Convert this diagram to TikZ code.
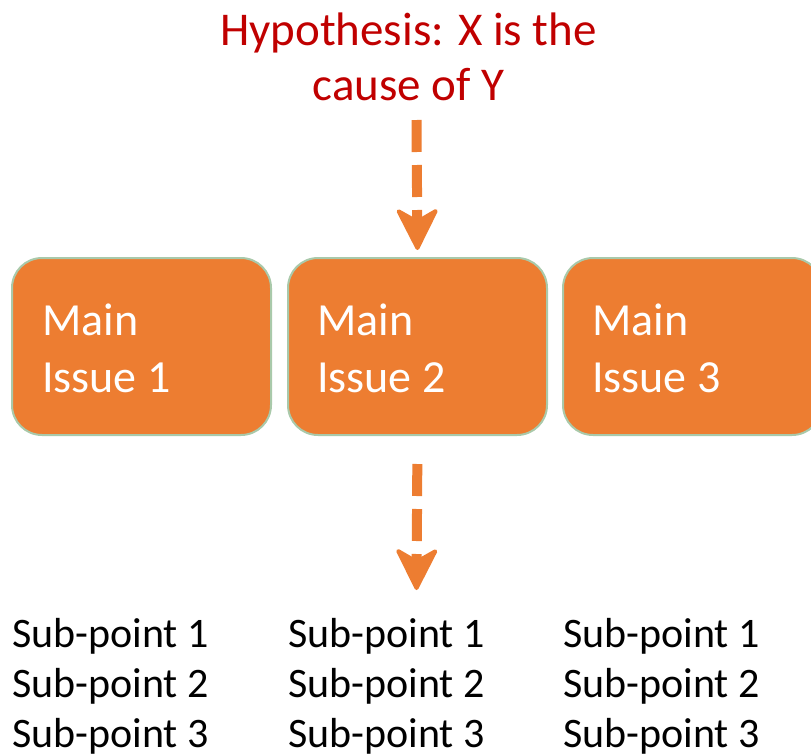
\documentclass[tikz,border=0pt]{standalone}
\usepackage{fontspec}
\setmainfont{Carlito}
\usetikzlibrary{arrows.meta}
\definecolor{boxorange}{HTML}{ED7D31}
\definecolor{boxedge}{HTML}{A9C9AA}
\definecolor{hypred}{HTML}{C00000}
\begin{document}
\begin{tikzpicture}[x=1pt,y=-1pt,
  issuebox/.style={draw=boxedge, line width=2pt, fill=boxorange, rounded corners=30pt,
    minimum width=259pt, minimum height=177pt, inner sep=0pt, anchor=north west},
  issuetext/.style={text=white, font=\fontsize{46}{57}\selectfont, align=left,
    anchor=base west, inner sep=0pt},
  subtext/.style={font=\fontsize{42}{50}\selectfont, align=left, anchor=base west, inner sep=0pt},
  hyptext/.style={text=hypred, font=\fontsize{47}{55}\selectfont, align=center, anchor=base, inner sep=0pt},
  dasharrow/.style={draw=boxorange, line width=10pt, dash pattern=on 32pt off 13pt,
    -{Stealth[length=46pt,width=46pt,inset=13pt,round,line width=4pt]}}
]
\useasboundingbox (0,0) rectangle (811,755);
\clip (0,0) rectangle (811,755);

% base anchor = baseline of the last line
\node[hyptext] (hyp) at (408.5,100) {Hypothesis: X is the\\cause of Y};

\node[issuebox] (b1) at (11,257) {};
\node[issuebox] (b2) at (287,257) {};
\node[issuebox] (b3) at (562,257) {};

\node[issuetext] (t1) at (42,392) {Main\\Issue 1};
\node[issuetext] (t2) at (317,392) {Main\\Issue 2};
\node[issuetext] (t3) at (592,392) {Main\\Issue 3};

\node[subtext] (s1) at (12,747) {Sub-point 1\\Sub-point 2\\Sub-point 3};
\node[subtext] (s2) at (288,747) {Sub-point 1\\Sub-point 2\\Sub-point 3};
\node[subtext] (s3) at (563,747) {Sub-point 1\\Sub-point 2\\Sub-point 3};

\coordinate (a1s) at (416.5,120);
\coordinate (a2e) at (416.5,590);
\draw[dasharrow, shorten >=7pt] (a1s) -- (b2.north);
\draw[dasharrow, shorten <=28pt] (b2.south) -- (a2e);
\end{tikzpicture}
\end{document}
